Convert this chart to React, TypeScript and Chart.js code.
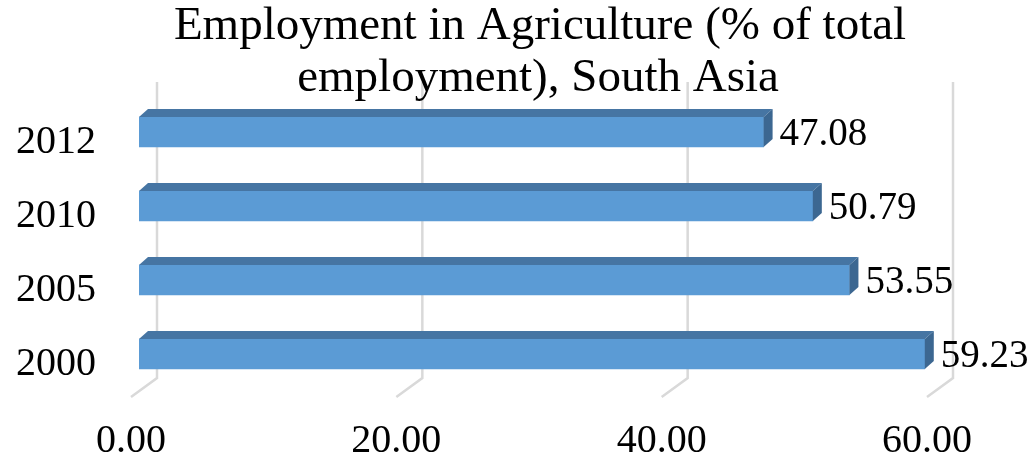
import React, { useEffect, useRef } from "react";
import { Chart, registerables } from "chart.js";

Chart.register(...registerables);

const TITLE_LINES = ["Employment in Agriculture (% of total", "employment), South Asia"];
const YEARS = ["2000", "2005", "2010", "2012"];
const VALUES = [59.23, 53.55, 50.79, 47.08];
const X_TICKS = [0, 20, 40, 60];

const FONT = "'Liberation Serif', 'Times New Roman', serif";
const FRONT = "#5B9BD5";
const TOP = "#4675A3";
const SIDE = "#3C6791";
const GRID = "#D9D9D9";
const DX = 9;
const DY = -8;

const depthPlugin = {
  id: "depth3d",
  beforeDatasetsDraw(chart: any) {
    const { ctx, chartArea, scales } = chart;
    const xs = scales.x;
    ctx.save();
    ctx.strokeStyle = GRID;
    ctx.lineWidth = 2.5;
    for (const v of X_TICKS) {
      const px = xs.getPixelForValue(v);
      ctx.beginPath();
      ctx.moveTo(px + 18, chartArea.top - 13);
      ctx.lineTo(px + 18, chartArea.bottom - 13);
      ctx.lineTo(px - 8, chartArea.bottom + 6);
      ctx.stroke();
    }
    ctx.restore();
  },
  afterDatasetsDraw(chart: any) {
    const { ctx } = chart;
    const meta = chart.getDatasetMeta(0);
    ctx.save();
    meta.data.forEach((bar: any, i: number) => {
      const p = bar.getProps(["x", "y", "base", "height"], true);
      const top = p.y - p.height / 2;
      const bottom = p.y + p.height / 2;
      ctx.fillStyle = TOP;
      ctx.beginPath();
      ctx.moveTo(p.base, top);
      ctx.lineTo(p.x, top);
      ctx.lineTo(p.x + DX, top + DY);
      ctx.lineTo(p.base + DX, top + DY);
      ctx.closePath();
      ctx.fill();
      ctx.fillStyle = SIDE;
      ctx.beginPath();
      ctx.moveTo(p.x, top);
      ctx.lineTo(p.x + DX, top + DY);
      ctx.lineTo(p.x + DX, bottom + DY);
      ctx.lineTo(p.x, bottom);
      ctx.closePath();
      ctx.fill();
      ctx.fillStyle = "#000";
      ctx.font = `39px ${FONT}`;
      ctx.textAlign = "left";
      ctx.textBaseline = "middle";
      ctx.fillText(VALUES[i].toFixed(2), p.x + 16, p.y + 3);
    });
    ctx.restore();
  },
  afterDraw(chart: any) {
    const { ctx } = chart;
    ctx.save();
    ctx.fillStyle = "#000";
    ctx.font = `47px ${FONT}`;
    ctx.textAlign = "center";
    ctx.textBaseline = "alphabetic";
    ctx.fillText(TITLE_LINES[0], 540, 39);
    ctx.fillText(TITLE_LINES[1], 538, 91);
    ctx.restore();
  },
};

export default function App() {
  const ref = useRef<HTMLCanvasElement | null>(null);
  useEffect(() => {
    if (!ref.current) return;
    const chart = new Chart(ref.current, {
      type: "bar",
      data: {
        labels: YEARS,
        datasets: [
          {
            data: VALUES,
            backgroundColor: FRONT,
            borderWidth: 0,
            barThickness: 30,
          },
        ],
      },
      options: {
        indexAxis: "y",
        animation: false,
        responsive: false,
        devicePixelRatio: 1,
        layout: { padding: { top: 95, right: 100, left: 0, bottom: 0 } },
        plugins: {
          legend: { display: false },
          title: { display: false },
          tooltip: { enabled: false },
        },
        scales: {
          x: {
            min: 0,
            max: 60,
            grid: { display: false },
            border: { display: false },
            ticks: {
              stepSize: 20,
              color: "#000",
              font: { family: FONT, size: 40 },
              padding: 18,
              labelOffset: -8,
              maxRotation: 0,
              callback: (v: any) => Number(v).toFixed(2),
            },
            afterFit: (s: any) => {
              s.height = 71;
            },
          },
          y: {
            reverse: true,
            grid: { display: false },
            border: { display: false },
            ticks: {
              color: "#000",
              font: { family: FONT, size: 40 },
              padding: 35,
              labelOffset: 10,
            },
            afterFit: (s: any) => {
              s.width = 139;
            },
          },
        },
      },
      plugins: [depthPlugin],
    } as any);
    return () => chart.destroy();
  }, []);
  return (
    <div style={{ position: "absolute", left: 0, top: 0, width: 1035, height: 462, background: "#fff" }}>
      <canvas ref={ref} width={1035} height={462} />
    </div>
  );
}
